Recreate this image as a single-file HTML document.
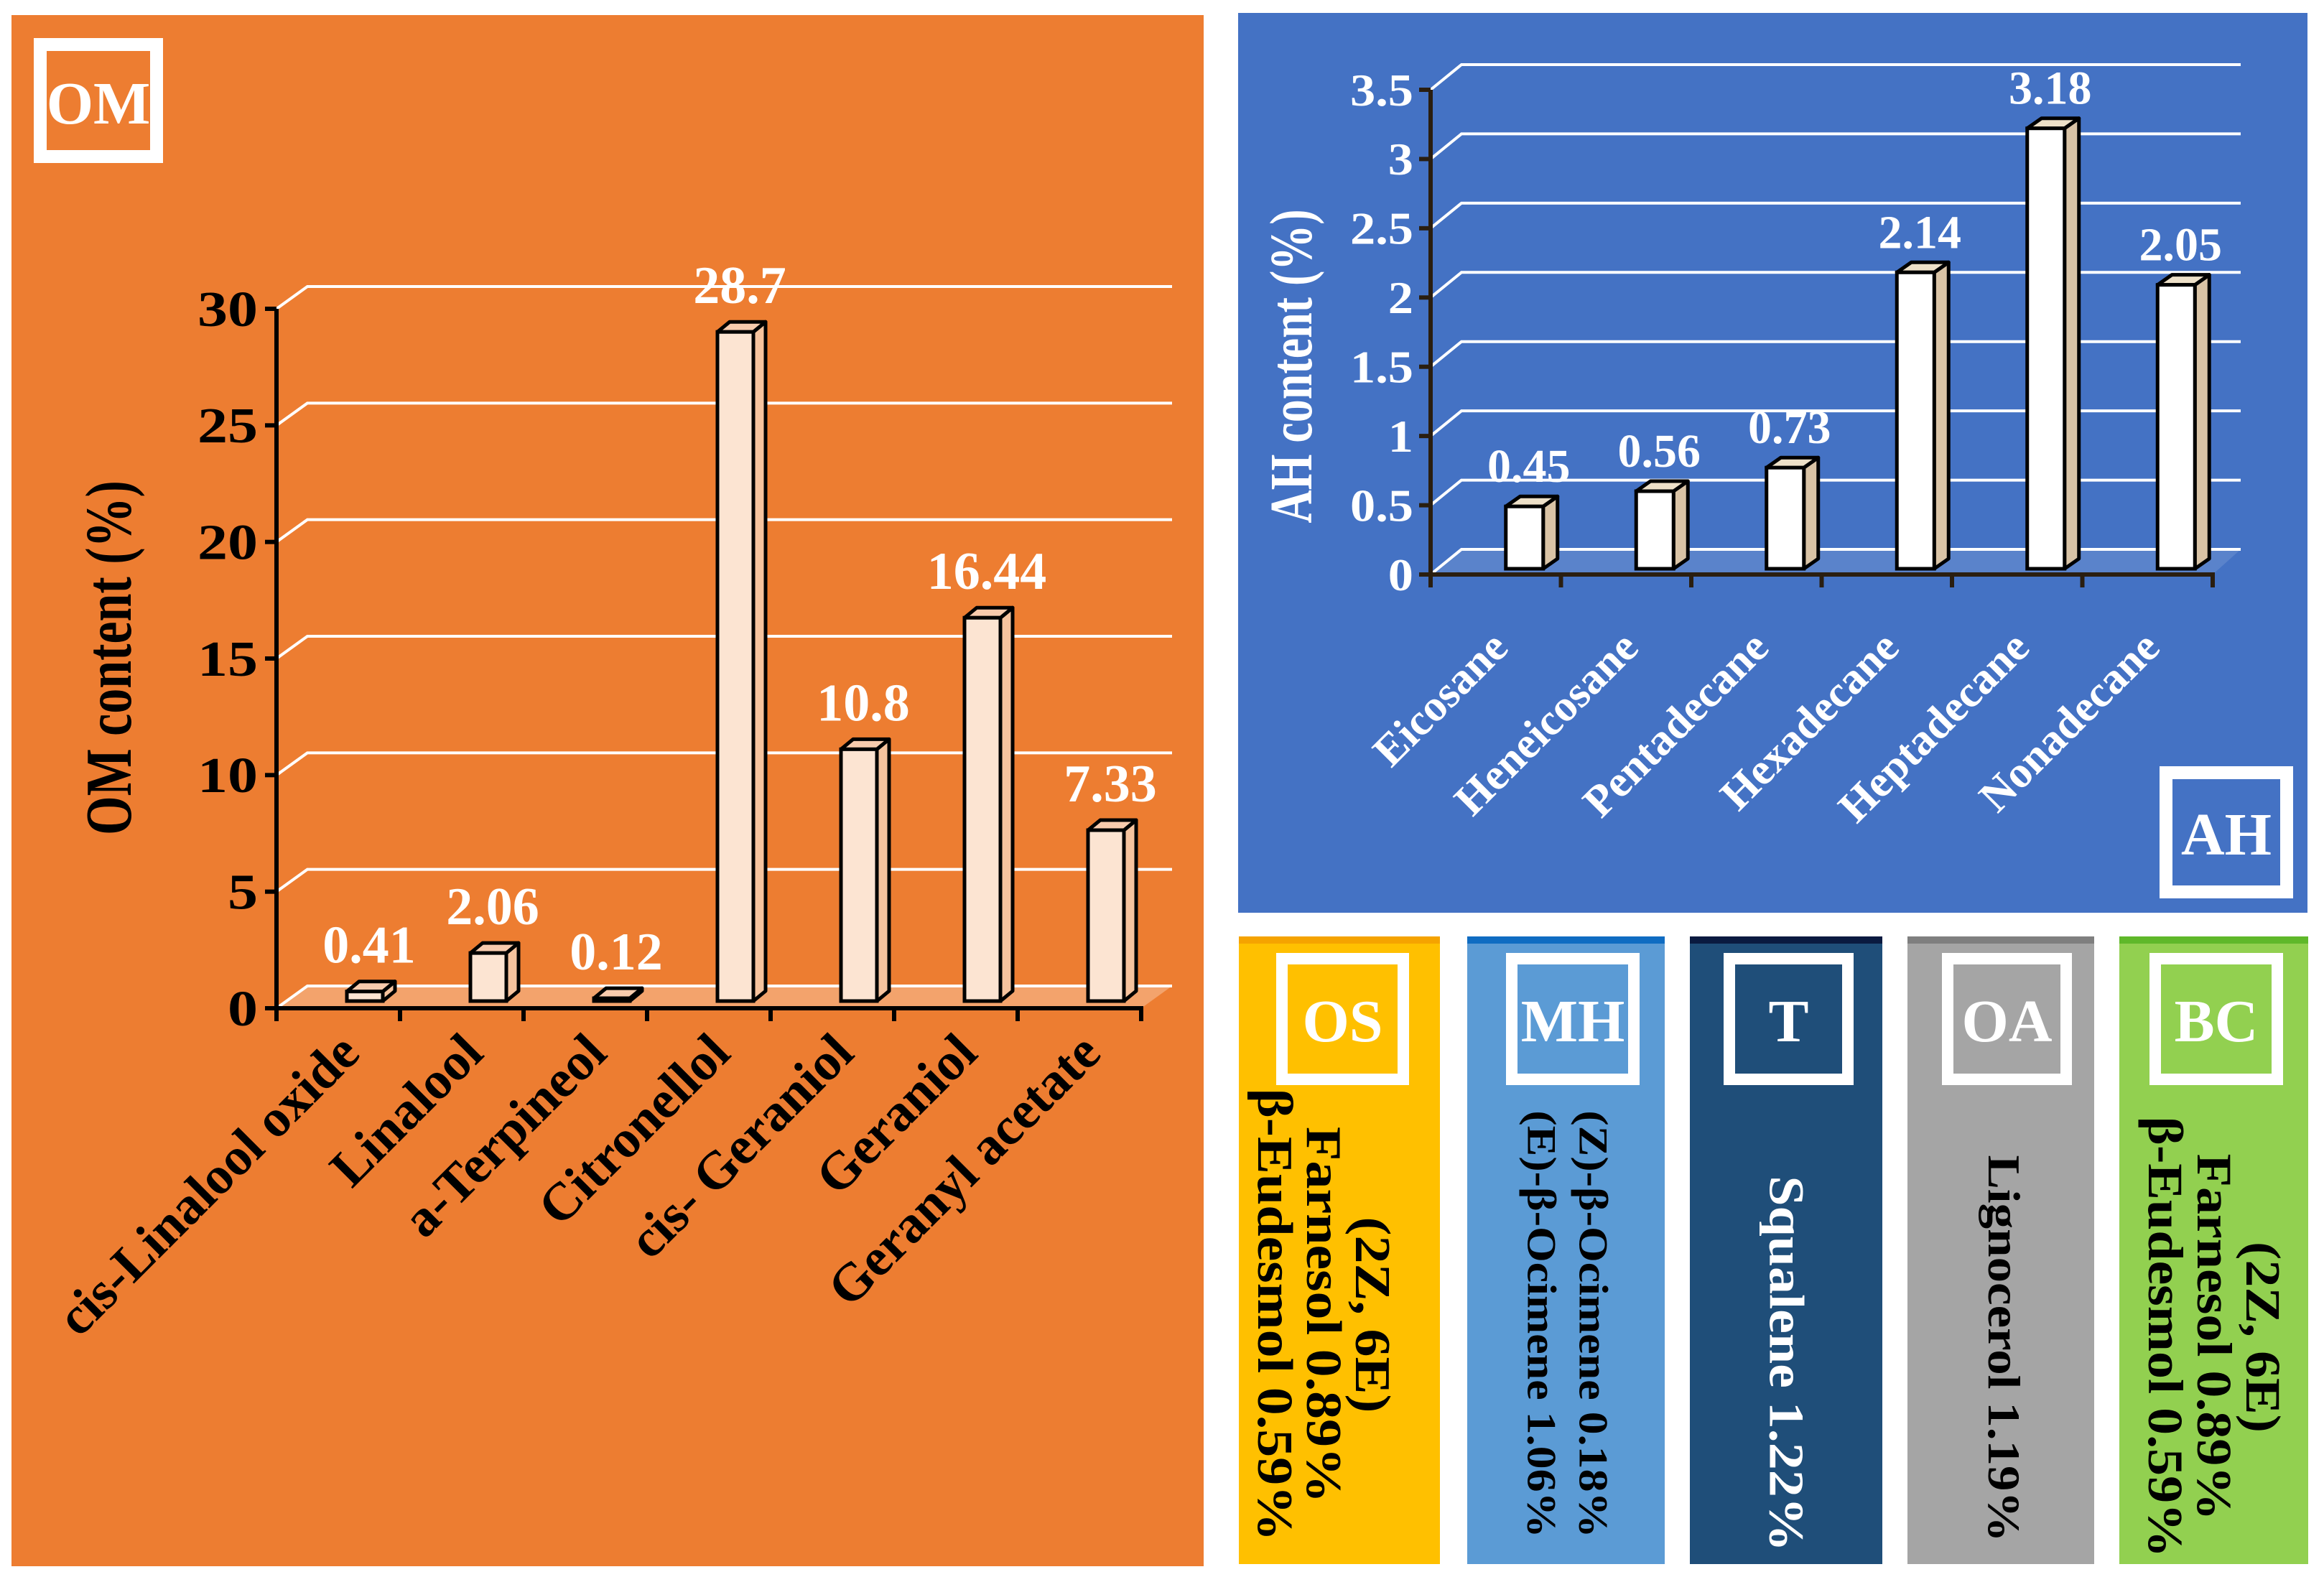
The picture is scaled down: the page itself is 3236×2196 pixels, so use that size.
<!DOCTYPE html>
<html><head><meta charset="utf-8"><style>
html,body{margin:0;padding:0;background:#fff;}
svg{display:block;font-family:"Liberation Serif",serif;font-weight:bold;}
</style></head><body>
<svg id="c" width="3236" height="2196" viewBox="0 0 3236 2196" xmlns="http://www.w3.org/2000/svg">
<rect x="0" y="0" width="3236" height="2196" fill="#ffffff"/>
<rect x="16" y="21" width="1660" height="2160" fill="#ED7D31"/>
<rect x="1724" y="18" width="1489" height="1253" fill="#4472C4"/>
<g id="om"></g>
<g id="ah"></g>
<rect x="56" y="62" width="162" height="156" fill="none" stroke="#fff" stroke-width="18"/>
<text x="137" y="172" text-anchor="middle" font-size="84" fill="#fff">OM</text>
<rect x="3016" y="1076" width="168" height="166" fill="none" stroke="#fff" stroke-width="18"/>
<text x="3100" y="1190" text-anchor="middle" font-size="84" fill="#fff">AH</text>
<g id="boxes"></g>
</svg>
<script>
const NS="http://www.w3.org/2000/svg";
const omCategories=["cis-Linalool oxide","Linalool","a-Terpineol","Citronellol","cis- Geraniol","Geraniol","Geranyl acetate"];
const omValues=[0.41,2.06,0.12,28.7,10.8,16.44,7.33];
const omLabels=["0.41","2.06","0.12","28.7","10.8","16.44","7.33"];
const omTicks=[0,5,10,15,20,25,30];
const ahCategories=["Eicosane","Heneicosane","Pentadecane","Hexadecane","Heptadecane","Nonadecane"];
const ahValues=[0.45,0.56,0.73,2.14,3.18,2.05];
const ahLabels=["0.45","0.56","0.73","2.14","3.18","2.05"];
const ahTicks=[0,0.5,1,1.5,2,2.5,3,3.5];
const ahTickLabels=["0","0.5","1","1.5","2","2.5","3","3.5"];

function el(tag,attrs,parent){const e=document.createElementNS(NS,tag);for(const k in attrs)e.setAttribute(k,attrs[k]);parent.appendChild(e);return e;}

function drawChart(g,cfg,cats,vals,labels,ticks,tickLabels){
  const y=v=>cfg.y0-(v-cfg.vmin)*(cfg.y0-cfg.ytop)/(cfg.vmax-cfg.vmin);
  const n=cats.length, bw=(cfg.x1-cfg.x0)/n;
  const cc=i=>cfg.x0+bw*(i+0.5);
  const fl=el('polygon',{points:`${cfg.x0},${cfg.y0} ${cfg.x1},${cfg.y0} ${cfg.gx1},${cfg.y0+cfg.gdy} ${cfg.x0+cfg.gdx},${cfg.y0+cfg.gdy}`,fill:cfg.floor},g);
  
  
  ticks.forEach((t,i)=>{
    const gy=y(t);
    const l=el('polyline',{points:`${cfg.x0},${gy} ${cfg.x0+cfg.gdx},${gy+cfg.gdy} ${cfg.gx1},${gy+cfg.gdy}`,fill:'none',stroke:'#fff','stroke-width':4},g);
    
    
    const tk=el('line',{x1:cfg.x0-16,y1:gy,x2:cfg.x0,y2:gy,stroke:cfg.axis,'stroke-width':6},g);
    
    
    const tx=el('text',{transform:`translate(${cfg.x0-cfg.tickGap},${gy+cfg.tickFont*0.34}) scale(${cfg.tickSx},1)`,'text-anchor':'end','font-size':cfg.tickFont,fill:cfg.tickColor},g);
    tx.textContent=tickLabels?tickLabels[i]:String(t);
    
    
  });
  const ya=el('line',{x1:cfg.x0,y1:cfg.y0+3,x2:cfg.x0,y2:y(cfg.vmax),stroke:cfg.axis,'stroke-width':6},g);
  
  
  const xa=el('line',{x1:cfg.x0-3,y1:cfg.y0,x2:cfg.x1+3,y2:cfg.y0,stroke:cfg.axis,'stroke-width':6},g);
  
  
  for(let i=0;i<=n;i++){
    const tk=el('line',{x1:cfg.x0+bw*i,y1:cfg.y0,x2:cfg.x0+bw*i,y2:cfg.y0+18,stroke:cfg.axis,'stroke-width':6},g);
    
    
  }
  const yt=el('text',{transform:`translate(${cfg.titleX},${cfg.titleY}) scale(1.3,1) rotate(-90)`,'text-anchor':'middle','font-size':cfg.titleFont,fill:cfg.titleColor},g);
  yt.textContent=cfg.title;
  
  
  vals.forEach((v,i)=>{
    const cx=cc(i)+cfg.off, w=cfg.bw, x0=cx-w/2, x1=cx+w/2;
    const bot=cfg.y0-cfg.lift, top=y(v)-cfg.lift, dx=cfg.dx, dy=cfg.dy;
    const bar=el('g',{},g);
    
    
    el('polygon',{points:`${x1},${top} ${x1+dx},${top+dy} ${x1+dx},${bot+dy} ${x1},${bot}`,fill:cfg.side,stroke:'#000','stroke-width':5,'stroke-linejoin':'round'},bar);
    el('polygon',{points:`${x0},${top} ${x0+dx},${top+dy} ${x1+dx},${top+dy} ${x1},${top}`,fill:cfg.topc,stroke:'#000','stroke-width':5,'stroke-linejoin':'round'},bar);
    el('rect',{x:x0,y:top,width:w,height:Math.max(bot-top,0.5),fill:cfg.front,stroke:'#000','stroke-width':5},bar);
    const vl=el('text',{transform:`translate(${cx+6},${top-cfg.labGap}) scale(${cfg.valSx},1)`,'text-anchor':'middle','font-size':cfg.valFont,fill:'#fff'},g);
    vl.textContent=labels[i];
    
    
    const xl=el('text',{transform:`translate(${cc(i)+cfg.labDx},${cfg.labY}) rotate(-45)`,'text-anchor':'end','font-size':cfg.catFont,fill:cfg.catColor},g);
    xl.textContent=cats[i];
    
    
  });
}

drawChart(document.getElementById('om'),{x0:385,x1:1589,y0:1404,ytop:430,vmin:0,vmax:30,gdx:43,gdy:-31,gx1:1632,floor:'rgba(255,235,220,0.35)',
  axis:'#000',tickFont:70,tickSx:1.2,tickGap:26,tickColor:'#000',titleX:182,titleY:916,titleFont:70,titleColor:'#000',title:'OM content (%)',
  bw:50,off:37,lift:10,dx:17,dy:-14,front:'#FCE4D2',side:'#F6C39E',topc:'#F8CBAD',labGap:40,valFont:74,valSx:1.0,
  labDx:33,labY:1470,catFont:74,catColor:'#000'},omCategories,omValues,omLabels,omTicks,null);

drawChart(document.getElementById('ah'),{x0:1992,x1:3081,y0:800,ytop:125,vmin:0,vmax:3.5,gdx:43,gdy:-35,gx1:3120,floor:'rgba(255,255,255,0.12)',
  axis:'#2a1e10',tickFont:64,tickSx:1.1,tickGap:24,tickColor:'#fff',titleX:1826,titleY:510,titleFont:64,titleColor:'#fff',title:'AH content (%)',
  bw:52,off:40,lift:8,dx:20,dy:-14,front:'#FFFFFF',side:'#D9C3A5',topc:'#EDE0C8',labGap:34,valFont:66,valSx:1.0,
  labDx:20,labY:905,catFont:62,catColor:'#fff'},ahCategories,ahValues,ahLabels,ahTicks,ahTickLabels);

const boxNames=["os","mh","t","oa","bc"];
const boxBadges=["OS","MH","T","OA","BC"];
const boxLines=[["(2Z, 6E)","Farnesol 0.89%","β-Eudesmol 0.59%"],["(Z)-β-Ocimene 0.18%","(E)-β-Ocimene 1.06%"],["Squalene 1.22%"],["Lignocerol 1.19%"],["(2Z, 6E)","Farnesol  0.89%","β-Eudesmol  0.59%"]];
const bx=[[1725,2005],[2043,2318],[2353,2621],[2656,2916],[2951,3214]];
const bcol=["#FFC000","#5B9BD5","#1F4E79","#A5A5A5","#92D050"];
const bedge=["#F5A300","#0F6CC2","#0A1A40","#7F7F7F","#5FB82A"];
const bbadge=[[1777,1962],[2097,2283],[2400,2581],[2704,2885],[2993,3179]];
const btext=["#000","#000","#fff","#000","#000"];
const bcenterY=[1831,1844,1899,1878,1862];
const bshift=[-22,2,0,4,0];
const bfont=[78,64,76,71,76];
const bsp=[68,72,68,68,68];
const bg=document.getElementById('boxes');
boxNames.forEach((nm,i)=>{
  const g=el('g',{},bg);
  
  
  el('rect',{x:bx[i][0],y:1304,width:bx[i][1]-bx[i][0],height:874,fill:bcol[i]},g);
  el('rect',{x:bx[i][0],y:1304,width:bx[i][1]-bx[i][0],height:10,fill:bedge[i]},g);
  const b=el('rect',{x:bbadge[i][0]+8,y:1335,width:bbadge[i][1]-bbadge[i][0]-16,height:168,fill:'none',stroke:'#fff','stroke-width':16},g);
  
  
  const bt=el('text',{x:(bbadge[i][0]+bbadge[i][1])/2,y:1450,'text-anchor':'middle','font-size':84,fill:'#fff'},g);
  bt.textContent=boxBadges[i];
  
  
  const lines=boxLines[i], nL=lines.length, sp=bsp[i];
  const cx=(bx[i][0]+bx[i][1])/2 + bshift[i];
  lines.forEach((ln,j)=>{
    const lx=cx+((nL-1)/2-j)*sp;
    const t=el('text',{transform:`translate(${lx},${bcenterY[i]}) scale(0.9,1) rotate(90)`,'text-anchor':'middle','font-size':bfont[i],fill:btext[i],dy:'0.33em'},g);
    t.textContent=ln;
    
    
  });
});
</script>
</body></html>
